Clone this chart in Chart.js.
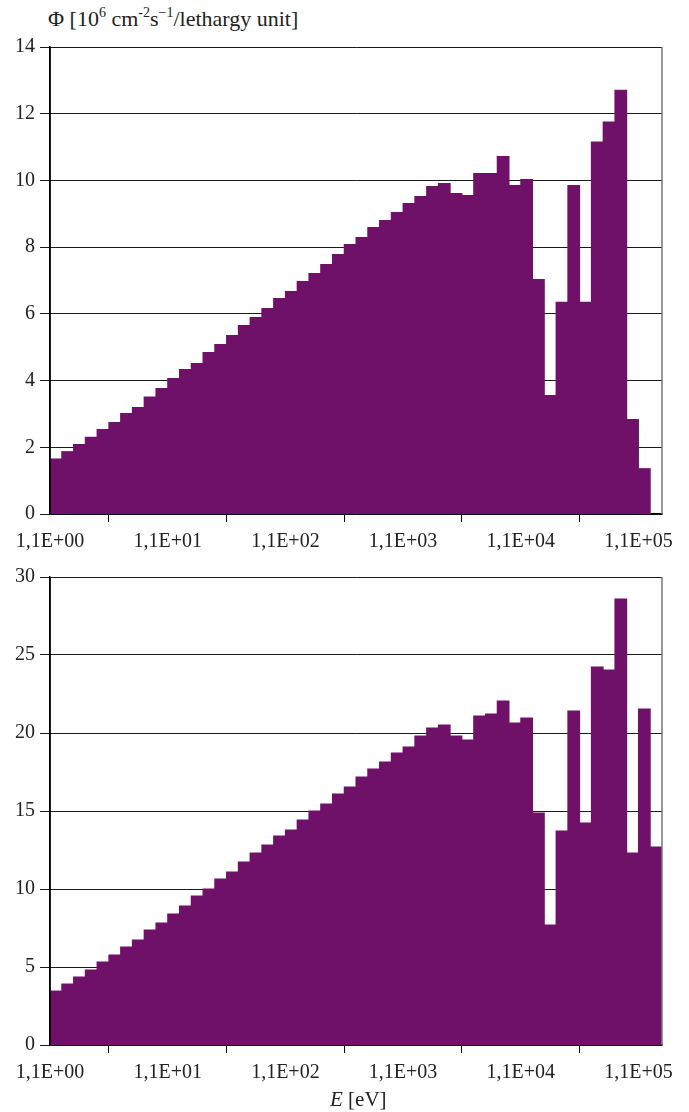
<!DOCTYPE html>
<html>
<head>
<meta charset="utf-8">
<script src="https://cdn.jsdelivr.net/npm/chart.js@4.4.0/dist/chart.umd.min.js"></script>
<style>
  body { margin: 0; background: #fff; }
  #wrap { position: relative; width: 689px; height: 1112px; font-family: 'Liberation Serif', 'DejaVu Serif', serif; color: #222; }
  canvas { position: absolute; left: 0; }
  #fluxTop { top: 0; }
  #fluxBottom { top: 560px; }
  .lbl { position: absolute; white-space: nowrap; font-size: 21px; line-height: 22px; }
  .lbl sup { font-size: 14px; line-height: 0; position: relative; top: -1px; }
</style>
</head>
<body>
<div id="wrap">
  <div class="lbl" style="left:48px; top:8px; font-size:22px;">&Phi; [10<sup>6</sup> cm<sup>-2</sup>s<sup>&minus;1</sup>/lethargy unit]</div>
  <canvas id="fluxTop" width="689" height="560"></canvas>
  <canvas id="fluxBottom" width="689" height="552"></canvas>
  <div class="lbl" style="left:330px; top:1088px;"><i>E</i> [eV]</div>
</div>
<script>
// energy grid: 10 lethargy bins per decade starting at 1,1 eV
const eMin = 1.1;
const binsPerDecade = 10;
const eMax = 1.1 * Math.pow(10, 5.2);

const tickValues = [1.1, 11, 110, 1100, 11000, 110000];
const tickLabels = ['1,1E+00', '1,1E+01', '1,1E+02', '1,1E+03', '1,1E+04', '1,1E+05'];

// flux per lethargy unit, upper panel
const fluxTop = [
  1.65, 1.87, 2.08, 2.30, 2.53, 2.74, 3.01, 3.19, 3.51, 3.76,
  4.06, 4.33, 4.51, 4.84, 5.08, 5.35, 5.65, 5.89, 6.16, 6.46,
  6.67, 6.97, 7.21, 7.48, 7.78, 8.08, 8.29, 8.59, 8.80, 9.04,
  9.31, 9.52, 9.82, 9.91, 9.61, 9.55, 10.21, 10.21, 10.72, 9.85,
  10.03, 7.03, 3.55, 6.35, 9.85, 6.35, 11.15, 11.75, 12.70, 2.83,
  1.36
];

// lower panel
const fluxBottom = [
  3.46, 3.91, 4.36, 4.81, 5.32, 5.77, 6.28, 6.73, 7.37, 7.82,
  8.40, 8.91, 9.55, 10.00, 10.64, 11.09, 11.73, 12.31, 12.82, 13.40,
  13.78, 14.42, 15.00, 15.45, 16.09, 16.54, 17.18, 17.69, 18.14, 18.72,
  19.10, 19.81, 20.32, 20.51, 19.81, 19.55, 21.09, 21.22, 22.05, 20.64,
  20.96, 14.87, 7.69, 13.72, 21.41, 14.23, 24.23, 24.04, 28.59, 12.31,
  21.54, 12.69
];

const barColor = '#6f1169';
const font = { family: "'Liberation Serif', 'DejaVu Serif', serif", size: 20 };

// bin centre energy for bin i
function binCentre(i) {
  return eMin * Math.pow(10, (i + 0.5) / binsPerDecade);
}

// grey right frame + left axis line redrawn over the bars
const frame = {
  id: 'frame',
  afterDatasetsDraw(chart) {
    const { ctx, chartArea } = chart;
    ctx.save();
    ctx.strokeStyle = '#777';
    ctx.lineWidth = 1.5;
    ctx.beginPath();
    ctx.moveTo(chartArea.right, chartArea.top);
    ctx.lineTo(chartArea.right, chartArea.bottom);
    ctx.stroke();
    ctx.strokeStyle = '#000';
    ctx.beginPath();
    ctx.moveTo(chartArea.left, chartArea.top);
    ctx.lineTo(chartArea.left, chartArea.bottom);
    ctx.stroke();
    ctx.restore();
  }
};

function makeChart(id, values, yMax, yStep, padTop, xHeight) {
  const ctx = document.getElementById(id).getContext('2d');
  return new Chart(ctx, {
    type: 'bar',
    data: {
      datasets: [{
        data: values.map((v, i) => ({ x: binCentre(i), y: v })),
        backgroundColor: barColor,
        borderWidth: 0,
        barPercentage: 1,
        categoryPercentage: 1,
        inflateAmount: 0.5
      }]
    },
    options: {
      responsive: false,
      animation: false,
      layout: { padding: { top: padTop, right: 27, left: 0, bottom: 0 } },
      plugins: { legend: { display: false }, tooltip: { enabled: false } },
      scales: {
        x: {
          type: 'logarithmic',
          min: eMin,
          max: eMax,
          offset: false,
          bounds: 'data',
          z: 1,
          afterBuildTicks: s => { s.ticks = tickValues.map(v => ({ value: v })); },
          afterFit: s => { s.height = xHeight; },
          ticks: {
            autoSkip: false,
            maxRotation: 0,
            color: '#222',
            font: font,
            padding: 8,
            callback: (v, i) => tickLabels[i]
          },
          grid: { drawOnChartArea: false, drawTicks: true, tickLength: 8, color: '#000' },
          border: { color: '#000', width: 1.5 }
        },
        y: {
          min: 0,
          max: yMax,
          afterFit: s => { s.width = 50; },
          ticks: { stepSize: yStep, color: '#222', font: font, padding: 5 },
          grid: { color: '#1a1a1a', lineWidth: 1, tickLength: 10 },
          border: { color: '#000', width: 1.5 }
        }
      }
    },
    plugins: [frame]
  });
}

makeChart('fluxTop', fluxTop, 14, 2, 47, 46);
makeChart('fluxBottom', fluxBottom, 30, 5, 15, 67);
</script>
</body>
</html>
